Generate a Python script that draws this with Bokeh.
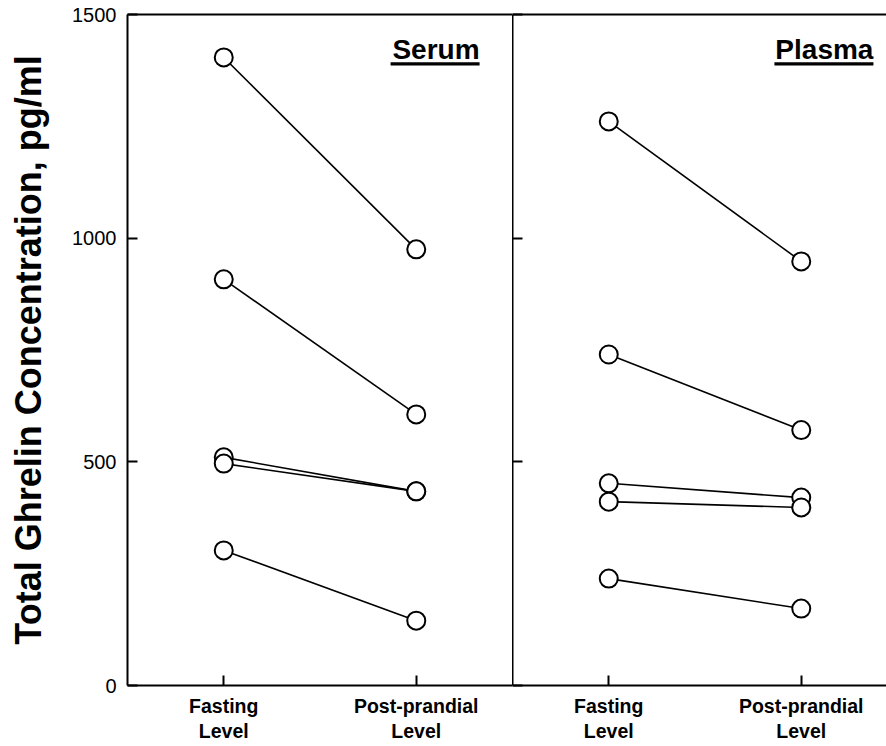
from bokeh.plotting import figure
from bokeh.models import FixedTicker, LinearAxis, Label, BoxAnnotation, Range1d, ColumnDataSource
from bokeh.layouts import row
from bokeh.embed import file_html
from bokeh.resources import INLINE

# ---- data ----
phases = ["Fasting\nLevel", "Post-prandial\nLevel"]
y_ticks = [0, 500, 1000, 1500]
serum_fasting = [1404, 908, 510, 496, 302]
serum_post = [975, 606, 434, 434, 145]
plasma_fasting = [1261, 740, 452, 411, 239]
plasma_post = [948, 571, 420, 398, 172]
panel_titles = ["Serum", "Plasma"]

FONT = "Liberation Sans"
phase_x = [i + 0.5 for i in range(len(phases))]
overrides = {x: lab for x, lab in zip(phase_x, phases)}


def blank_axis():
    return LinearAxis(ticker=FixedTicker(ticks=[]), major_tick_in=0, major_tick_out=0,
                      minor_tick_in=0, minor_tick_out=0, major_label_standoff=0,
                      axis_line_width=2, axis_line_color="black")


def style_common(p):
    p.grid.visible = False
    p.outline_line_color = None
    p.background_fill_color = "white"
    p.border_fill_color = "white"
    xa = p.xaxis[0]
    xa.ticker = FixedTicker(ticks=phase_x)
    xa.major_label_overrides = overrides
    xa.major_tick_in = 10
    xa.major_tick_out = 0
    xa.minor_tick_in = 0
    xa.minor_tick_out = 0
    xa.axis_line_width = 2
    xa.major_tick_line_width = 2
    xa.major_label_standoff = 9
    xa.major_label_text_font = FONT
    xa.major_label_text_font_size = "19.5px"
    xa.major_label_text_font_style = "bold"
    xa.major_label_text_color = "black"
    xa.major_label_text_line_height = 1.15
    ya = p.yaxis[0]
    ya.ticker = FixedTicker(ticks=y_ticks)
    ya.major_tick_in = 10
    ya.major_tick_out = 0
    ya.minor_tick_in = 0
    ya.minor_tick_out = 0
    ya.axis_line_width = 2
    ya.major_tick_line_width = 2
    p.add_layout(blank_axis(), "above")


def draw(p, fasting, post):
    src = ColumnDataSource(dict(x0=[phase_x[0]] * len(fasting), y0=fasting,
                                x1=[phase_x[1]] * len(post), y1=post))
    p.segment("x0", "y0", "x1", "y1", source=src, line_color="black", line_width=1.6)
    p.scatter(phase_x[0], fasting, size=18, marker="circle", fill_color="white",
              line_color="black", line_width=2)
    p.scatter(phase_x[1], post, size=18, marker="circle", fill_color="white",
              line_color="black", line_width=2)


def title(p, text, x_right, width_units):
    p.add_layout(Label(x=x_right, y=1422, text=text, text_align="right",
                       text_baseline="middle", text_font=FONT,
                       text_font_size="28px", text_font_style="bold", text_color="black"))
    p.add_layout(BoxAnnotation(left=x_right - width_units, right=x_right, top=1393, bottom=1386,
                               fill_color="black", fill_alpha=1, line_color=None))


# ---- left panel (Serum) ----
p1 = figure(frame_width=385, frame_height=671, x_range=Range1d(0, 2), y_range=Range1d(0, 1500),
            output_backend="svg", toolbar_location=None,
            min_border_left=127, min_border_right=0, min_border_top=14, min_border_bottom=58)
style_common(p1)
ya = p1.yaxis[0]
ya.axis_label = "Total Ghrelin Concentration, pg/ml"
ya.axis_label_text_font = FONT
ya.axis_label_text_font_size = "36px"
ya.axis_label_text_font_style = "bold"
ya.axis_label_text_color = "black"
ya.axis_label_standoff = 20
ya.major_label_text_font = FONT
ya.major_label_text_font_size = "20px"
ya.major_label_text_color = "black"
ya.major_label_standoff = 11
draw(p1, serum_fasting, serum_post)
title(p1, panel_titles[0], 1.829, 89 / 192.5)

# ---- right panel (Plasma) ----
p2 = figure(frame_width=374, frame_height=671, x_range=Range1d(0, 374 / 192.5), y_range=Range1d(0, 1500),
            output_backend="svg", toolbar_location=None,
            min_border_left=0, min_border_right=0, min_border_top=14, min_border_bottom=58)
style_common(p2)
ya2 = p2.yaxis[0]
ya2.major_label_overrides = {t: "" for t in y_ticks}
ya2.major_label_standoff = 0
draw(p2, plasma_fasting, plasma_post)
title(p2, panel_titles[1], 1.875, 99 / 192.5)

layout = row(p1, p2)
open("out.html", "w").write(file_html(layout, INLINE))
